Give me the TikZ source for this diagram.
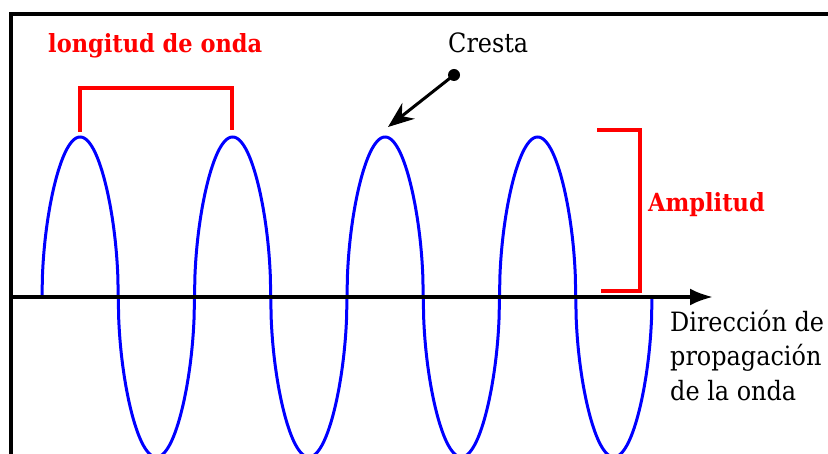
\documentclass[tikz,border=0pt]{standalone}
\usepackage{fontspec}
\setmainfont{DejaVu Serif Condensed}
\usetikzlibrary{arrows.meta, positioning}

\begin{document}
\begin{tikzpicture}[x=1pt, y=-1pt,
  redtext/.style={text=wavered, font=\fontsize{25}{34}\selectfont\bfseries, inner sep=0pt, anchor=base west},
  blacktext/.style={font=\fontsize{26.6}{34}\selectfont, inner sep=0pt, anchor=base west},
  bracket/.style={draw=wavered, line width=3.2pt},
  wave/.style={draw=waveblue, line width=3pt, line join=round}]
  % Define colors
  \definecolor{wavered}{HTML}{FF0000}
  \definecolor{waveblue}{HTML}{0000FF}

  \useasboundingbox (0,0) rectangle (828,454);
  \clip (0,0) rectangle (828,454);

  % Frame
  \draw[line width=4pt] (11,14) rectangle (900,520);

  % Crests
  \coordinate (crest1) at (80,137);
  \coordinate (crest2) at (232,137);
  \coordinate (crest3) at (386,137);

  % Wave
  \draw[wave] plot[domain=0:1440, samples=1441, variable=\t]
    ({42 + \t/180*76.25}, {297 - 160*sin(\t)/max(sqrt(abs(sin(\t))),0.001)});

  % Axis
  \coordinate (axisstart) at (13,297);
  \coordinate (axisend) at (713,297);
  \draw[line width=3.5pt, -{Latex[length=23pt, width=17pt]}] (axisstart) -- (axisend);

  % Wavelength bracket
  \coordinate (wl1) at (80,132);
  \coordinate (wl2) at (232,130);
  \draw[bracket] (wl1) |- (232,88) -- (wl2);
  \node[redtext] (wavelength) at (48,53) {longitud de onda};

  % Crest label and pointer
  \node[blacktext] (crestlabel) at (448,53) {Cresta};
  \coordinate (crestdot) at (454,75);
  \coordinate (cresttip) at (388,127);
  \fill (crestdot) circle (6);
  \draw[line width=3pt, -{Stealth[length=26pt, width=20pt]}] (crestdot) -- (cresttip);

  % Amplitude bracket
  \coordinate (amptop) at (597,130);
  \coordinate (ampbottom) at (601,291);
  \draw[bracket] (amptop) -| (640,291) -- (ampbottom);
  \node[redtext] (amplitude) at (648,212) {Amplitud};

  % Direction label
  \node[blacktext] (dir1) at (670,332) {Dirección de};
  \node[blacktext] (dir2) at (670,366) {propagación};
  \node[blacktext] (dir3) at (670,401) {de la onda};
\end{tikzpicture}
\end{document}
